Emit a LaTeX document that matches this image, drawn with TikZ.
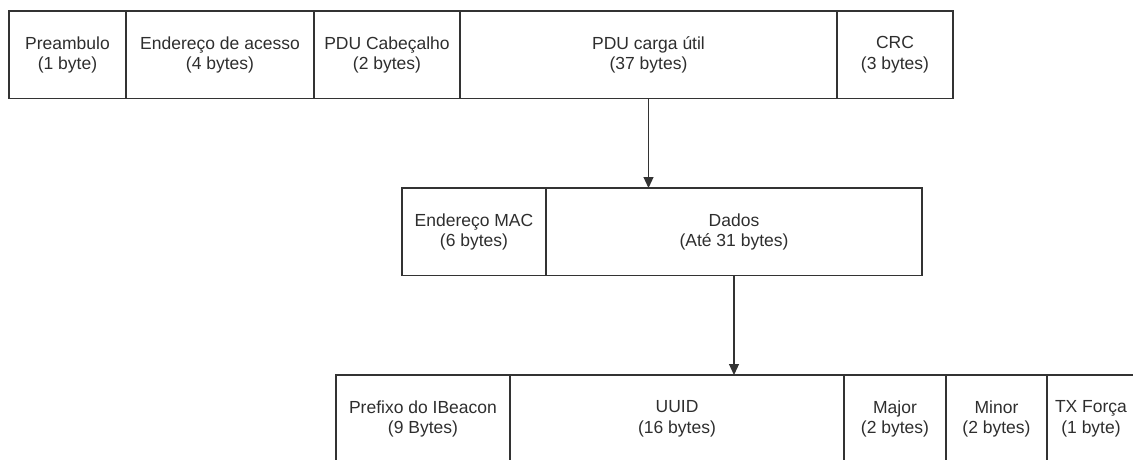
\documentclass[tikz,border=0pt]{standalone}
\usepackage{fontspec}
\setmainfont{Liberation Sans}
\usetikzlibrary{arrows.meta}
\definecolor{linha}{HTML}{333333}
\definecolor{texto}{HTML}{2E2E2E}
\newcommand\campo[5]{\node[campo, minimum width=#3pt] (#1) at (#2) {#4\\(#5)};}

\begin{document}
\begin{tikzpicture}[x=1pt, y=-1pt,
    campo/.style={draw=linha, line width=1.2pt, anchor=north west, minimum height=87.5pt,
        inner sep=0pt, outer sep=0pt, align=center, text=texto,
        font=\fontsize{17.5}{20.5}\selectfont},
    seta/.style={draw=linha, line width=1.2pt, -{Triangle[width=10pt,length=11pt]}}]
    \useasboundingbox (0,0) rectangle (1133,459);
    \clip (0,0) rectangle (1133,459);

    % Pacote BLE
    \campo{preambulo}{9,11}{117}{Preambulo}{1 byte}
    \campo{endereco}{126,11}{188}{Endereço de acesso}{4 bytes}
    \campo{cabecalho}{314,11}{146}{PDU Cabeçalho}{2 bytes}
    \campo{carga}{460,11}{377}{PDU carga útil}{37 bytes}
    \campo{crc}{837,11}{116}{CRC}{3 bytes}

    % Carga util
    \campo{mac}{402,188}{144}{Endereço MAC}{6 bytes}
    \campo{dados}{546,188}{376}{Dados}{Até 31 bytes}

    % Dados iBeacon
    \campo{prefixo}{336,375}{174}{Prefixo do IBeacon}{9 Bytes}
    \campo{uuid}{510,375}{334}{UUID}{16 bytes}
    \campo{major}{844,375}{102}{Major}{2 bytes}
    \campo{minor}{946,375}{101}{Minor}{2 bytes}
    \campo{txforca}{1047,375}{88}{TX Força}{1 byte}

    % Setas
    \draw[seta] (carga.south) -- (carga.south |- dados.north);
    \draw[seta] (dados.south) -- (dados.south |- uuid.north);
\end{tikzpicture}
\end{document}
